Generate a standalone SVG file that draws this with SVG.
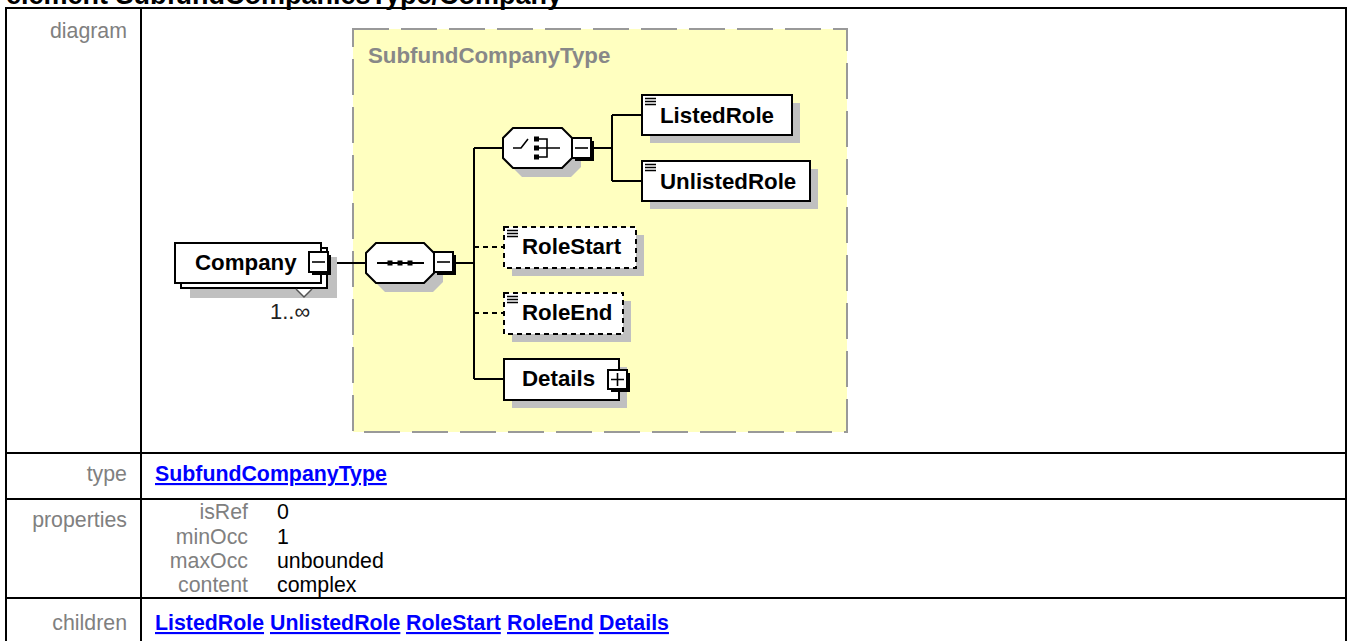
<svg xmlns="http://www.w3.org/2000/svg" width="1348" height="641" viewBox="0 0 1348 641">
<defs>
<style>
.tl{font-family:"Liberation Sans",Arial,sans-serif;font-size:21.33px;fill:#808080;text-anchor:end}
.tv{font-family:"Liberation Sans",Arial,sans-serif;font-size:21.33px;fill:#000}
.lk{font-family:"Liberation Sans",Arial,sans-serif;font-size:21.33px;font-weight:bold;fill:#0000ff;text-decoration:underline}
.grid{stroke:#000;stroke-width:2;fill:none}
.nt{font-family:"Liberation Sans",Arial,sans-serif;font-size:22.3px;font-weight:bold;fill:#000}
.box{fill:#fff;stroke:#000;stroke-width:2}
.dbox{fill:#fff;stroke:#000;stroke-width:2;stroke-dasharray:5 4}
.sh{fill:#c0c0c0}
.ln{stroke:#000;stroke-width:2;fill:none}
.dln{stroke:#000;stroke-width:2;fill:none;stroke-dasharray:5 4}
.bs{fill:#000}
.bt{fill:#fff;stroke:#000;stroke-width:2}
.ic{stroke:#000;stroke-width:1.6;fill:none}
</style>
</defs>
<rect x="0" y="0" width="1348" height="641" fill="#fff"/>
<text x="6" y="4" font-family="Liberation Sans, Arial, sans-serif" font-size="27" font-weight="bold" fill="#000">element SubfundCompaniesType/Company</text>

<g id="table">
<path class="grid" d="M5,8 H1347 M6,8 V641 M1346,8 V641 M141,8 V641 M6,453 H1346 M6,499 H1346 M6,598 H1346"/>
<text class="tl" x="127" y="38">diagram</text>
<text class="tl" x="127" y="481">type</text>
<text class="lk" x="155" y="481">SubfundCompanyType</text>
<text class="tl" x="127" y="527">properties</text>
<text class="tl" x="248" y="519">isRef</text>
<text class="tl" x="248" y="544">minOcc</text>
<text class="tl" x="248" y="568">maxOcc</text>
<text class="tl" x="248" y="592">content</text>
<text class="tv" x="277" y="519">0</text>
<text class="tv" x="277" y="544">1</text>
<text class="tv" x="277" y="568">unbounded</text>
<text class="tv" x="277" y="592">complex</text>
<text class="tl" x="127" y="630">children</text>
<text class="lk" x="155" y="630">ListedRole</text>
<text class="lk" x="270" y="630">UnlistedRole</text>
<text class="lk" x="406" y="630">RoleStart</text>
<text class="lk" x="507" y="630">RoleEnd</text>
<text class="lk" x="599" y="630">Details</text>
</g>

<g id="typebox">
<rect x="353" y="29" width="494" height="403" fill="#ffffc0" stroke="#999" stroke-width="2" stroke-dasharray="36 12"/>
<text x="368" y="63" font-family="Liberation Sans, Arial, sans-serif" font-size="22.3" font-weight="bold" fill="#888">SubfundCompanyType</text>
</g>

<g id="connectors">
<path class="ln" d="M331,263 H366 M456,263 H474 M474,148 V379 M474,148 H503 M594,148 H612 M612,115 V181 M612,115 H642 M612,181 H642 M474,379 H504"/>
<path class="dln" d="M474,247 H504 M474,313 H504"/>
</g>

<g id="company">
<rect class="sh" x="190" y="257" width="147" height="41"/>
<rect class="box" x="181" y="248" width="146" height="40"/>
<rect class="box" x="175" y="243" width="146" height="40"/>
<text class="nt" x="195" y="270">Company</text>
<rect class="bs" x="312" y="255" width="19" height="20"/>
<rect class="bt" x="309" y="252" width="19" height="20"/>
<line class="ic" x1="312" y1="262" x2="325" y2="262"/>
<polyline points="296,289 304,297 312,289" fill="#fff" stroke="#555" stroke-width="1.5"/>
<text x="270" y="319" font-family="Liberation Sans, Arial, sans-serif" font-size="22" fill="#222">1..∞</text>
</g>

<g id="sequence">
<polygon class="sh" points="385,252 433,252 443,262 443,282 433,292 385,292 375,282 375,262"/>
<polygon class="box" points="376,243 424,243 434,253 434,273 424,283 376,283 366,273 366,253"/>
<line class="ln" x1="377" y1="263" x2="424" y2="263"/>
<rect x="387.5" y="260.5" width="5" height="5"/>
<rect x="397.5" y="260.5" width="5" height="5"/>
<rect x="407.5" y="260.5" width="5" height="5"/>
<rect class="bs" x="437" y="255" width="19" height="20"/>
<rect class="bt" x="434" y="252" width="19" height="20"/>
<line class="ic" x1="437" y1="262" x2="450" y2="262"/>
</g>

<g id="choice">
<polygon class="sh" points="522,137 571,137 581,147 581,167 571,177 522,177 512,167 512,147"/>
<polygon class="box" points="513,128 562,128 572,138 572,158 562,168 513,168 503,158 503,138"/>
<path class="ic" d="M513,148 H521 L528,139 M539,139 H547 V157 H539 M539,148 H560"/>
<rect x="534" y="136.5" width="5" height="5"/>
<rect x="534" y="145.5" width="5" height="5"/>
<rect x="534" y="154.5" width="5" height="5"/>
<rect class="bs" x="575" y="141" width="19" height="20"/>
<rect class="bt" x="572" y="138" width="19" height="20"/>
<line class="ic" x1="575" y1="148" x2="588" y2="148"/>
</g>

<g id="listedrole">
<rect class="sh" x="650" y="103" width="150" height="40"/>
<rect class="box" x="642" y="95" width="150" height="40"/>
<path class="ic" d="M645,98.5 H656 M645,101.5 H656 M645,104.5 H656"/>
<text class="nt" x="660" y="123">ListedRole</text>
</g>

<g id="unlistedrole">
<rect class="sh" x="650" y="169" width="168" height="40"/>
<rect class="box" x="642" y="161" width="168" height="40"/>
<path class="ic" d="M645,164.5 H656 M645,167.5 H656 M645,170.5 H656"/>
<text class="nt" x="660" y="189">UnlistedRole</text>
</g>

<g id="rolestart">
<rect class="sh" x="512" y="235" width="132" height="41"/>
<rect class="dbox" x="504" y="227" width="132" height="41"/>
<path class="ic" d="M507,230.5 H518 M507,233.5 H518 M507,236.5 H518"/>
<text class="nt" x="522" y="254">RoleStart</text>
</g>

<g id="roleend">
<rect class="sh" x="512" y="301" width="119" height="41"/>
<rect class="dbox" x="504" y="293" width="119" height="41"/>
<path class="ic" d="M507,296.5 H518 M507,299.5 H518 M507,302.5 H518"/>
<text class="nt" x="522" y="320">RoleEnd</text>
</g>

<g id="details">
<rect class="sh" x="512" y="367" width="115" height="41"/>
<rect class="box" x="504" y="359" width="115" height="41"/>
<text class="nt" x="522" y="386">Details</text>
<rect class="bs" x="611" y="373" width="19" height="19"/>
<rect class="bt" x="608" y="370" width="19" height="19"/>
<path class="ic" d="M611,379.5 H624 M617.5,373 V386"/>
</g>
</svg>
